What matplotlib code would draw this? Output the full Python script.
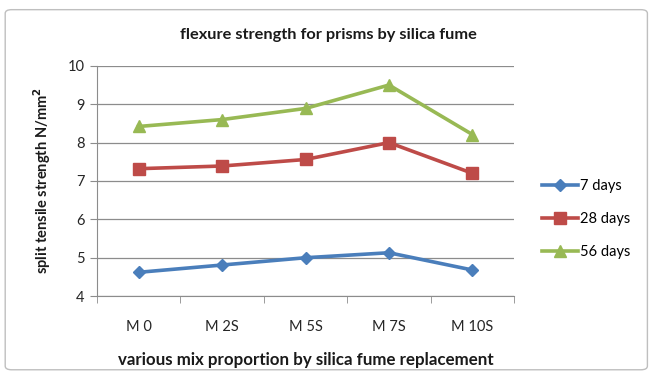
import matplotlib
matplotlib.use("Agg")
import matplotlib.pyplot as plt
from matplotlib.patches import FancyBboxPatch
from matplotlib.ticker import FixedLocator

categories = ["M 0", "M 2S", "M 5S", "M 7S", "M 10S"]
days7 = [4.62, 4.81, 5.0, 5.13, 4.68]
days28 = [7.32, 7.39, 7.56, 8.0, 7.2]
days56 = [8.42, 8.6, 8.89, 9.5, 8.21]
series_labels = ["7 days", "28 days", "56 days"]

plt.rcParams['font.family'] = ['Lato', 'DejaVu Sans']

fig = plt.figure(figsize=(6.5, 3.72), dpi=100)
fig.patch.set_facecolor('white')
border = FancyBboxPatch((0.008, 0.006), 0.988, 0.968, boxstyle="round,pad=0,rounding_size=0.01",
                        transform=fig.transFigure, fill=False, edgecolor='#bfbfbf', lw=1.0)
fig.patches.append(border)

ax = fig.add_axes([0.149, 0.204, 0.642, 0.619])
x = list(range(len(categories)))
colors = ['#4A7EBB', '#BE4B48', '#98B954']
markers = ['D', 's', '^']
msizes = [6, 8.5, 9]
for vals, lab, c, m, ms in zip([days7, days28, days56], series_labels, colors, markers, msizes):
    ax.plot(x, vals, color=c, marker=m, markersize=ms, lw=2.6, label=lab,
            markeredgecolor=c, solid_joinstyle='round')

ax.set_xlim(-0.5, len(categories) - 0.5)
ax.set_ylim(4, 10)
ax.set_yticks(range(4, 11))
ax.yaxis.grid(True, color='#8c8c8c', lw=0.9)
ax.set_axisbelow(True)
ax.set_xticks(x)
ax.set_xticklabels(categories)
ax.xaxis.set_minor_locator(FixedLocator([i - 0.5 for i in range(len(categories) + 1)]))
ax.tick_params(axis='x', which='major', length=0, pad=17, labelsize=10.5, colors='#262626')
ax.tick_params(axis='x', which='minor', length=5, color='#8c8c8c', direction='out')
ax.tick_params(axis='y', length=5, color='#8c8c8c', labelsize=10.5, colors='#262626', pad=4)
for s in ['top', 'right']:
    ax.spines[s].set_visible(False)
ax.spines['left'].set_color('#8c8c8c')
ax.spines['bottom'].set_color('#8c8c8c')

fig.text(328 / 650, 1 - 35 / 372, "flexure strength for prisms by silica fume", fontsize=11.75,
         fontweight='bold', color='#1a1a1a', ha='center', va='center')
ax.set_xlabel("various mix proportion by silica fume replacement", fontsize=12.2,
              fontweight='bold', color='#1a1a1a', labelpad=13)
ax.set_ylabel("split tensile strength N/mm$^\\mathbf{2}$", fontsize=10.5, fontweight='bold',
              color='#1a1a1a', labelpad=10)

leg = fig.legend(loc='center left', bbox_to_anchor=(542 / 650, 1 - 219 / 372), frameon=False,
                 fontsize=10.5, labelspacing=1.3, handlelength=2.45, handletextpad=0.15,
                 borderpad=0, borderaxespad=0)

fig.savefig("out.png", dpi=100, facecolor='white')
